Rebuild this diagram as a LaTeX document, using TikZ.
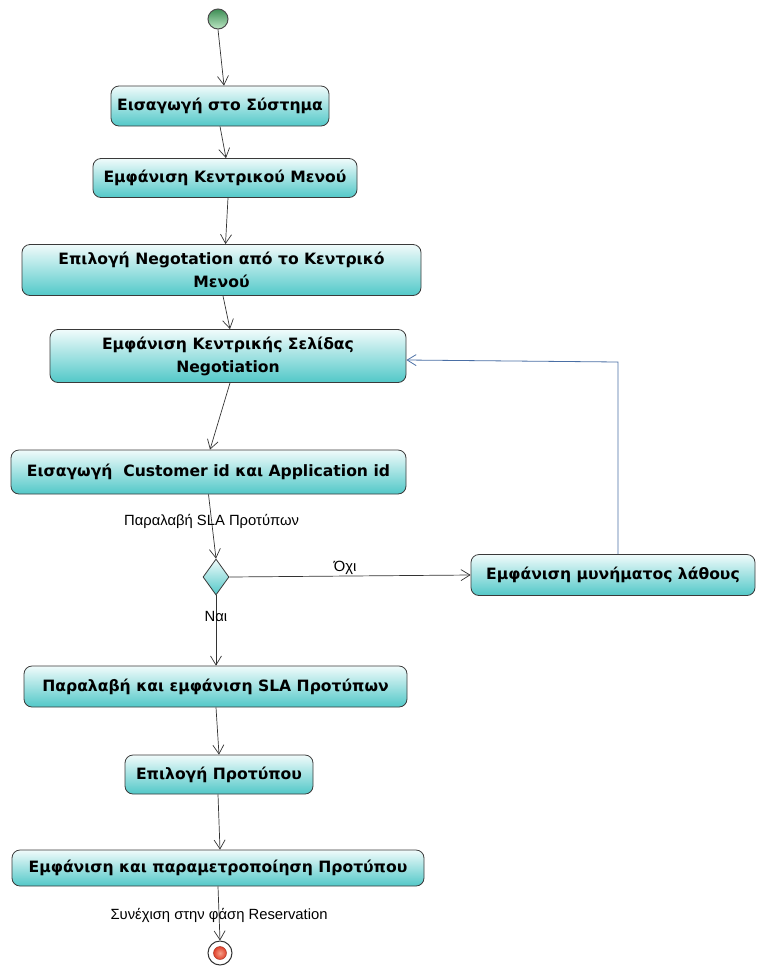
\documentclass[tikz,border=0pt]{standalone}
\usepackage{fontspec}
\setmainfont{DejaVu Sans}
\newfontfamily\lblfont{Liberation Sans}
\usetikzlibrary{arrows.meta,shapes.geometric}
\definecolor{boxtop}{HTML}{F0FBFB}
\definecolor{boxbot}{HTML}{52C8C8}
\definecolor{bordergray}{HTML}{3A3A3A}
\definecolor{backblue}{HTML}{4A6FA5}
\definecolor{greentop}{HTML}{3E8E55}
\definecolor{greenbot}{HTML}{BDE8C5}
\definecolor{redin}{HTML}{F6A08A}
\definecolor{redout}{HTML}{E0402A}
\begin{document}
\begin{tikzpicture}[x=1pt,y=-1pt,
  act/.style={draw=bordergray, line width=0.8pt, rounded corners=8pt,
    top color=boxtop, bottom color=boxbot, inner sep=0pt, align=center,
    font=\bfseries\fontsize{15.6}{23}\selectfont},
  flow/.style={draw=black!80, line width=0.7pt, -{Straight Barb[length=9pt,width=11pt]}},
  backflow/.style={draw=backblue, line width=0.8pt, -{Straight Barb[length=9pt,width=11pt]}},
  lbl/.style={font=\lblfont\fontsize{14.8}{17}\selectfont, inner sep=1pt}
]
\useasboundingbox (0,0) rectangle (756,967);

\node[circle, minimum size=20pt, inner sep=0pt, draw=black!70, line width=1pt,
  top color=greentop, bottom color=greenbot] (start) at (218,19) {};

\node[act, minimum width=218pt, minimum height=40pt] (b1) at (220,106) {Εισαγωγή στο Σύστημα};
\node[act, minimum width=264pt, minimum height=39pt] (b2) at (225,178) {Εμφάνιση Κεντρικού Μενού};
\node[act, minimum width=399pt, minimum height=51pt] (b3) at (221.5,270) {Επιλογή Negotation από το Κεντρικό\\Μενού};
\node[act, minimum width=356pt, minimum height=53pt] (b4) at (228,356) {Εμφάνιση Κεντρικής Σελίδας\\Negotiation};
\node[act, minimum width=395pt, minimum height=44pt] (b5) at (208.5,472) {Εισαγωγή\ \ Customer id και Application id};
\node[diamond, draw=bordergray, line width=0.8pt, top color=boxtop, bottom color=boxbot,
  minimum width=26pt, minimum height=36pt, inner sep=0pt] (d) at (216,577) {};
\node[act, minimum width=284pt, minimum height=41pt] (b6) at (613,575) {Εμφάνιση μυνήματος λάθους};
\node[act, minimum width=383pt, minimum height=41pt] (b7) at (215.5,686.5) {Παραλαβή και εμφάνιση SLA Προτύπων};
\node[act, minimum width=188pt, minimum height=39pt] (b8) at (219,774.5) {Επιλογή Προτύπου};
\node[act, minimum width=412pt, minimum height=36pt] (b9) at (218,868) {Εμφάνιση και παραμετροποίηση Προτύπου};

\node[circle, minimum size=24pt, inner sep=0pt, draw=black!80, line width=1pt, fill=white] (end) at (220,953) {};
\node[circle, minimum size=13pt, inner sep=0pt, draw=redout!70!black, line width=0.4pt,
  inner color=redin, outer color=redout] (endin) at (end.center) {};

\coordinate (corner) at (618,362);

\draw[flow] (start.south) -- ([xshift=4pt]b1.north);
\draw[flow] (b1.south) -- ([xshift=1pt]b2.north);
\draw[flow] ([xshift=3pt]b2.south) -- ([xshift=4pt]b3.north);
\draw[flow] ([xshift=1.5pt]b3.south) -- ([xshift=2pt]b4.north);
\draw[flow] ([xshift=2pt]b4.south) -- ([xshift=1.5pt]b5.north);
\draw[flow] (b5.south) -- node[lbl, pos=0.42] {Παραλαβή SLA Προτύπων} (d.north);
\draw[flow] (d.east) -- node[lbl, above, pos=0.48] {Όχι} (b6.west);
\draw[flow] (d.south) -- node[lbl, pos=0.3] {Ναι} ([xshift=0.5pt]b7.north);
\draw[flow] ([xshift=0.5pt]b7.south) -- (b8.north);
\draw[flow] ([xshift=-1pt]b8.south) -- ([xshift=2pt]b9.north);
\draw[flow] (b9.south) -- node[lbl, pos=0.53] {Συνέχιση στην φάση Reservation} (end.north);
\draw[backflow] ([xshift=5pt]b6.north) -- (corner) -- ([yshift=-4pt]b4.east);
\end{tikzpicture}
\end{document}
